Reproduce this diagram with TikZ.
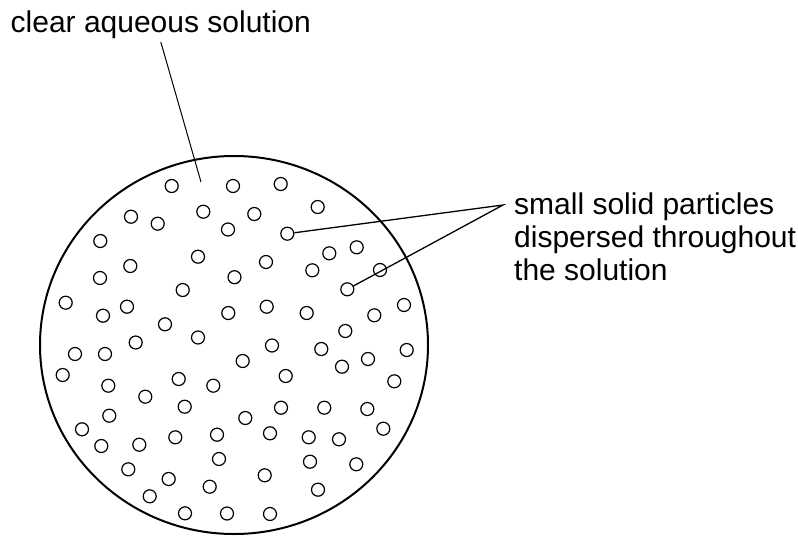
\documentclass[tikz,border=0pt]{standalone}
\usepackage{fontspec}
\usetikzlibrary{positioning}
\newfontfamily\labelfont{Liberation Sans}

\begin{document}
\begin{tikzpicture}[
      x=1pt, y=-1pt,
      lbl/.style={font=\labelfont\fontsize{30}{33}\selectfont, inner sep=0pt},
      particle/.style={circle, draw, line width=1.2pt, minimum size=13pt,
                       inner sep=0pt},
      lead/.style={draw, line width=1.3pt}
    ]
    \useasboundingbox (0,0) rectangle (798,536);
    % the drop of solution
    \draw[line width=2pt] (234,345) ellipse [x radius=194, y radius=189];
    \foreach \px/\py [count=\i] in {
        171.7/186, 233/186, 280.7/184, 203.3/211.7, 131/216.7, 157.7/223.7,
        228/229.5, 254.3/214, 317.7/207, 287.3/233.7, 100.3/241, 198/256.7,
        329.3/253.3, 356.7/247.3, 130.3/266, 266/262, 312.3/270.3, 380/270,
        100/278, 234.5/277.2, 182.7/290, 347.3/289.3, 65.7/302.7, 127/306.7,
        266.7/306.7, 404/305, 103/315.7, 228.3/313, 306.7/313, 374.3/315.3,
        165/324.3, 345.3/331, 198/337.5, 135.7/342.5, 272/345.5, 321.3/349,
        406.7/350, 75/354, 105/354, 242.7/361, 342/366.7, 368/359,
        62.7/375, 108.3/385.7, 178.7/379, 213.3/385.7, 285.7/376, 394.3/381.3,
        145.3/396.7, 184.7/406.7, 281/407.7, 324.3/407.7, 367.3/409, 109.3/415.7,
        245.3/418, 82/429.3, 175.3/437.3, 217/434.7, 270/433.3, 308.7/437.3,
        339/439.3, 383.3/428.7, 139.3/444.7, 101.3/446, 219/459, 310/461.7,
        356.3/464.3, 128.3/469.3, 168.7/479, 264.7/475.3, 209.7/486.7, 149.7/496.3,
        318/489.7, 185/513.3, 227/513.5, 270/514}
      \node[particle] (p\i) at (\px,\py) {};
    % labels
    \node[lbl, inner sep=3.5pt, anchor=base west] (aqueous) at (7,32)
      {clear aqueous solution};
    \coordinate (inside) at (201,182);
    \node[lbl, align=left, anchor=north west] (solids) at (514,193)
      {small solid particles\\dispersed throughout\\the solution};
    \coordinate (tip) at (503,205);
    \draw[line width=1pt] (aqueous.south) -- (inside);
    \draw[lead] (p10) -- (tip) -- (p22);
\end{tikzpicture}
\end{document}
